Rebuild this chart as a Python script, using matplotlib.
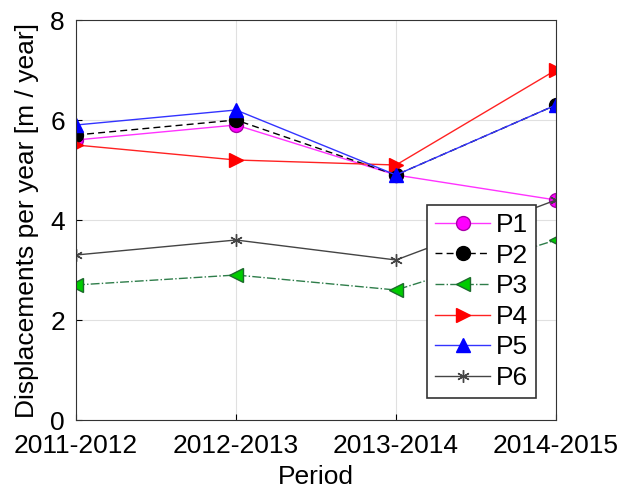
import matplotlib
matplotlib.use("Agg")
import matplotlib.pyplot as plt

periods = ["2011-2012", "2012-2013", "2013-2014", "2014-2015"]
p1 = [5.6, 5.9, 4.9, 4.4]
p2 = [5.7, 6.0, 4.9, 6.3]
p3 = [2.7, 2.9, 2.6, 3.6]
p4 = [5.5, 5.2, 5.1, 7.0]
p5 = [5.9, 6.2, 4.9, 6.3]
p6 = [3.3, 3.6, 3.2, 4.4]
names = ["P1", "P2", "P3", "P4", "P5", "P6"]

plt.rcParams['font.family'] = ['Liberation Sans', 'DejaVu Sans']
plt.rcParams['font.size'] = 19

fig = plt.figure(figsize=(6.18, 4.91), dpi=100)
ax = fig.add_axes([76/618, 71/491, 480/618, 400/491])
x = list(range(len(periods)))

ax.plot(x, p1, color='#ff33ff', lw=1, marker='o', ms=10, mfc='#ff00ff', mec='#aa00aa', label=names[0])
ax.plot(x, p2, color='black', lw=1, ls=(0, (5, 3)), marker='o', ms=10, mfc='black', mec='black', label=names[1])
ax.plot(x, p3, color='#2e7d4a', lw=1, ls='-.', marker='<', ms=10, mfc='#00cc00', mec='#1a6b2a', label=names[2])
ax.plot(x, p4, color='#ff2222', lw=1, marker='>', ms=10, mfc='red', mec='red', label=names[3])
ax.plot(x, p5, color='#3333ff', lw=1, marker='^', ms=10, mfc='blue', mec='blue', label=names[4])
ax.plot(x, p6, color='#444444', lw=1, marker=(6, 2, 0), ms=9, mfc='#444444', mec='#444444', label=names[5])

ax.set_xlim(0, 3)
ax.set_ylim(0, 8)
ax.set_xticks(x)
ax.set_xticklabels(periods)
ax.set_yticks([0, 2, 4, 6, 8])
ax.grid(True, color='#e0e0e0', lw=0.8)
ax.tick_params(direction='in', length=4)
ax.tick_params(axis='y', pad=8)
ax.tick_params(axis='x', pad=10)
for s in ax.spines.values():
    s.set_color('#333333')
ax.set_xlabel("Period", labelpad=5)
ax.set_ylabel("Displacements per year [m / year]", labelpad=8)

leg = ax.legend(loc='lower right', bbox_to_anchor=(0.958, 0.055), borderaxespad=0,
                fancybox=False, framealpha=1, edgecolor='#333333', handlelength=2.1,
                labelspacing=0.25, handletextpad=0.2, borderpad=0.3)
leg.get_frame().set_linewidth(1.2)

fig.savefig("out.png", dpi=100)
